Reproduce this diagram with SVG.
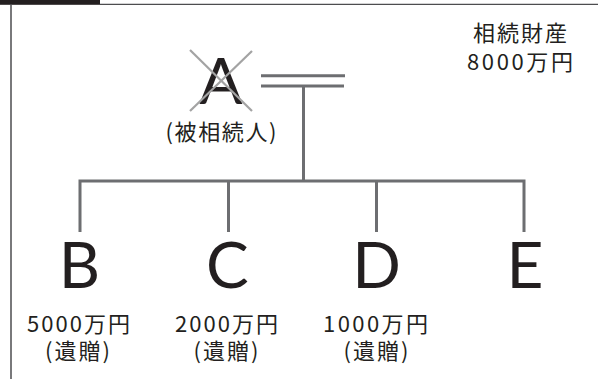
<svg xmlns="http://www.w3.org/2000/svg" width="598" height="379" viewBox="0 0 598 379">
<style>
.big{font-family:Lato,"Noto Sans",sans-serif;font-weight:400;font-size:64px;fill:#231f20;text-anchor:middle}
.jp{font-family:"Noto Sans CJK JP",sans-serif;font-size:22px;fill:#231f20;text-anchor:middle}
.conn{stroke:#6d6e71;stroke-width:3;fill:none}
.cross{stroke:#a3a3a3;stroke-width:2.2;fill:none}
</style>
<rect width="598" height="379" fill="#ffffff"/>
<g id="frame">
<rect x="0" y="0" width="100" height="4.8" fill="#231f20"/>
<line x1="100" y1="4.3" x2="598" y2="4.3" stroke="#4d4d4f" stroke-width="1.3"/>
<line x1="11" y1="4" x2="11" y2="379" stroke="#4d4d4f" stroke-width="1.5"/>
</g>
<g id="estate">
<text class="jp" x="520" y="41" font-size="24" textLength="94" lengthAdjust="spacing">相続財産</text>
<text class="jp" x="520" y="70" font-size="24" textLength="106" lengthAdjust="spacing">8000万円</text>
</g>
<g id="connectors">
<line class="conn" x1="261" y1="75.7" x2="345" y2="75.7"/>
<line class="conn" x1="261" y1="86" x2="344" y2="86"/>
<line class="conn" x1="303.5" y1="86" x2="303.5" y2="181"/>
<polyline class="conn" points="80,232 80,181 524,181 524,232"/>
<line class="conn" x1="228.5" y1="181" x2="228.5" y2="232"/>
<line class="conn" x1="376.5" y1="181" x2="376.5" y2="232"/>
</g>
<g id="nodeA">
<text class="big" x="221" y="104">A</text>
<line class="cross" x1="190" y1="50" x2="252" y2="111"/>
<line class="cross" x1="252" y1="51" x2="190" y2="111"/>
<text class="jp" x="221" y="140" font-size="23" textLength="111" lengthAdjust="spacing">(被相続人)</text>
</g>
<g id="nodeB">
<text class="big" x="79.5" y="288">B</text>
<text class="jp" x="78.5" y="332" textLength="103" lengthAdjust="spacing">5000万円</text>
<text class="jp" x="77.5" y="358.5" textLength="65" lengthAdjust="spacing">(遺贈)</text>
</g>
<g id="nodeC">
<text class="big" x="227.5" y="288">C</text>
<text class="jp" x="226.5" y="332" textLength="103" lengthAdjust="spacing">2000万円</text>
<text class="jp" x="226" y="358.5" textLength="65" lengthAdjust="spacing">(遺贈)</text>
</g>
<g id="nodeD">
<text class="big" x="376.5" y="288">D</text>
<text class="jp" x="375.5" y="332" textLength="105" lengthAdjust="spacing">1000万円</text>
<text class="jp" x="376" y="358.5" textLength="65" lengthAdjust="spacing">(遺贈)</text>
</g>
<g id="nodeE">
<text class="big" x="525" y="288">E</text>
</g>
</svg>
